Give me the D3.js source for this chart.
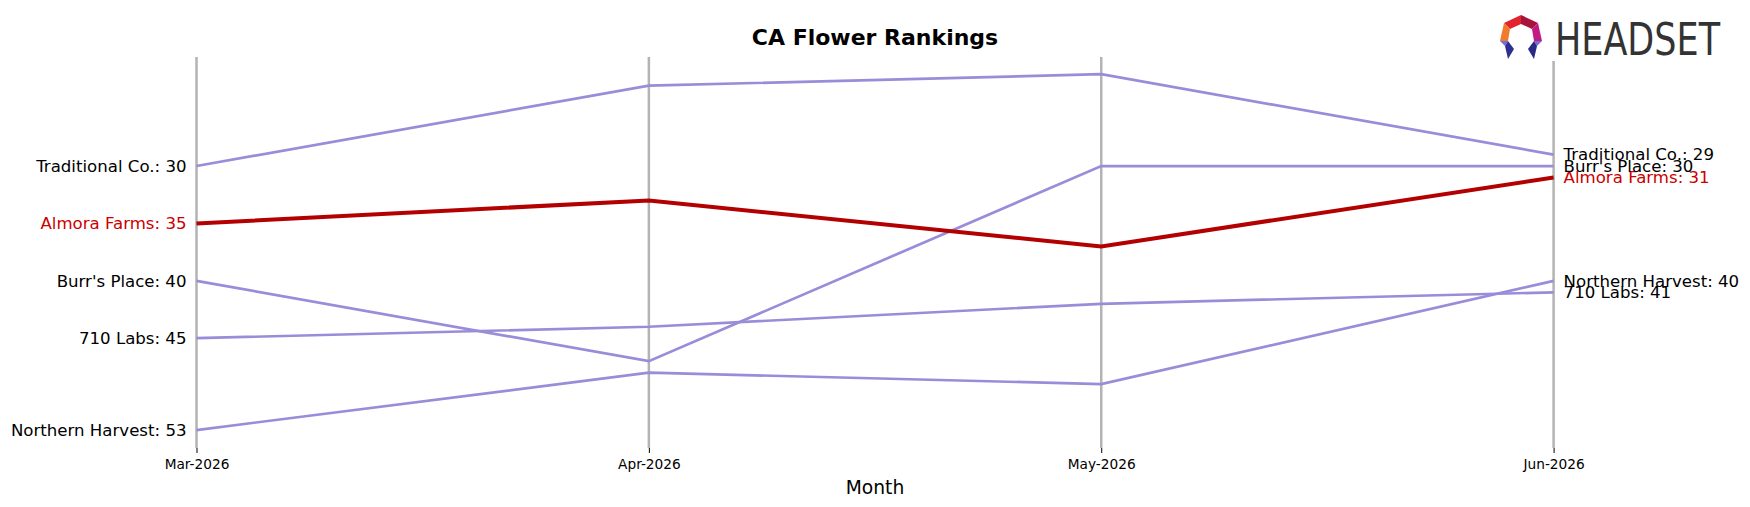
<!DOCTYPE html>
<html>
<head>
<meta charset="utf-8">
<script src="https://cdn.jsdelivr.net/npm/d3@7"></script>
<style>
  body { margin: 0; background: #fff; }
  svg { font-family: "DejaVu Sans", sans-serif; }
</style>
</head>
<body>
<div id="chart-area"></div>
<script>
// CA Flower rankings by month

var months = ["Mar-2026", "Apr-2026", "May-2026", "Jun-2026"];
var brands = ["Traditional Co.", "Almora Farms", "Burr's Place", "710 Labs", "Northern Harvest"];
var traditionalRanks = [30, 23, 22, 29];
var almoraRanks = [35, 33, 37, 31];
var burrsRanks = [40, 47, 30, 30];
var labsRanks = [45, 44, 42, 41];
var northernRanks = [53, 48, 49, 40];
var highlight = "Almora Farms";

var width = 1750, height = 507;
var gridTop = 57, gridBottom = 448;

var series = [
    { name: brands[0], ranks: traditionalRanks },
    { name: brands[1], ranks: almoraRanks },
    { name: brands[2], ranks: burrsRanks },
    { name: brands[3], ranks: labsRanks },
    { name: brands[4], ranks: northernRanks }
];

////////// Scales //////////
var x = d3.scalePoint()
    .domain(months)
    .range([196.5, 1553.6]);

var y = d3.scaleLinear()
    .domain([20.5, 55])
    .range([57, 453]);

var svg = d3.select("#chart-area")
    .append("svg")
        .attr("width", width)
        .attr("height", height);

// vertical month lines
svg.selectAll("line.grid")
    .data(months)
    .enter()
    .append("line")
        .attr("class", "grid")
        .attr("x1", function(d){ return x(d); })
        .attr("x2", function(d){ return x(d); })
        .attr("y1", gridTop)
        .attr("y2", gridBottom)
        .attr("stroke", "#b3b3b3")
        .attr("stroke-width", 2.5);

// X axis
var xAxisCall = d3.axisBottom(x).tickSize(5).tickPadding(6);
var xAxis = svg.append("g")
    .attr("transform", "translate(0," + gridBottom + ")")
    .call(xAxisCall);
xAxis.select(".domain").remove();
xAxis.selectAll("text")
    .attr("font-family", "DejaVu Sans")
    .attr("font-size", "13.7px")
    .attr("fill", "#000");

// lines, others first so the highlight sits on top
var line = d3.line()
    .x(function(d, i){ return x(months[i]); })
    .y(function(d){ return y(d); });

var ordered = series.filter(function(s){ return s.name !== highlight; })
    .concat(series.filter(function(s){ return s.name === highlight; }));

svg.selectAll("path.rank")
    .data(ordered)
    .enter()
    .append("path")
        .attr("class", "rank")
        .attr("d", function(d){ return line(d.ranks); })
        .attr("fill", "none")
        .attr("stroke", function(d){ return d.name === highlight ? "#b30000" : "#9b8cd9"; })
        .attr("stroke-width", function(d){ return d.name === highlight ? 4 : 2.7; });

// left labels
svg.selectAll("text.left")
    .data(series)
    .enter()
    .append("text")
        .attr("class", "left")
        .attr("x", x(months[0]) - 10)
        .attr("y", function(d){ return y(d.ranks[0]); })
        .attr("dy", "0.35em")
        .attr("text-anchor", "end")
        .attr("font-size", "16.6px")
        .attr("fill", function(d){ return d.name === highlight ? "#cc0000" : "#000"; })
        .text(function(d){ return d.name + ": " + d.ranks[0]; });

// right labels
var last = months.length - 1;
svg.selectAll("text.right")
    .data(series)
    .enter()
    .append("text")
        .attr("class", "right")
        .attr("x", x(months[last]) + 10)
        .attr("y", function(d){ return y(d.ranks[last]); })
        .attr("dy", "0.35em")
        .attr("text-anchor", "start")
        .attr("font-size", "16.6px")
        .attr("fill", function(d){ return d.name === highlight ? "#cc0000" : "#000"; })
        .text(function(d){ return d.name + ": " + d.ranks[last]; });

// title and axis label
svg.append("text")
    .attr("x", 875)
    .attr("y", 45)
    .attr("text-anchor", "middle")
    .attr("font-size", "22px")
    .attr("font-weight", "bold")
    .text("CA Flower Rankings");

svg.append("text")
    .attr("x", 875)
    .attr("y", 494)
    .attr("text-anchor", "middle")
    .attr("font-size", "18.7px")
    .text("Month");

////////// Logo //////////
var logo = svg.append("g").attr("transform", "translate(1499,15)");
logo.append("rect")
    .attr("x", -2).attr("y", 0).attr("width", 232).attr("height", 46)
    .attr("fill", "#fff");
var icon = [
    { pts: [[5,8],[22,0],[22,9],[11,14]], c: "#e2242f" },
    { pts: [[22,0],[39,8],[33,14],[22,9]], c: "#a8133a" },
    { pts: [[5,8],[11,14],[9,26],[1,26]], c: "#f27b2b" },
    { pts: [[39,8],[43,26],[35,26],[33,14]], c: "#c21a82" },
    { pts: [[1,26],[9,26],[6,31]], c: "#6f6fdc" },
    { pts: [[6,31],[9,26],[15,34],[9,44]], c: "#2f2f8f" },
    { pts: [[43,26],[35,26],[38,31]], c: "#6f6fdc" },
    { pts: [[38,31],[35,26],[29,34],[35,44]], c: "#2a2a86" }
];
logo.selectAll("polygon")
    .data(icon)
    .enter()
    .append("polygon")
        .attr("points", function(d){ return d.pts.map(function(p){ return p.join(","); }).join(" "); })
        .attr("fill", function(d){ return d.c; });
logo.append("text")
    .attr("x", 56)
    .attr("y", 40)
    .attr("font-family", "Liberation Sans Narrow, DejaVu Sans Condensed, sans-serif")
    .attr("font-size", "44px")
    .attr("fill", "#333")
    .attr("textLength", 165)
    .attr("lengthAdjust", "spacingAndGlyphs")
    .text("HEADSET");
</script>
</body>
</html>
